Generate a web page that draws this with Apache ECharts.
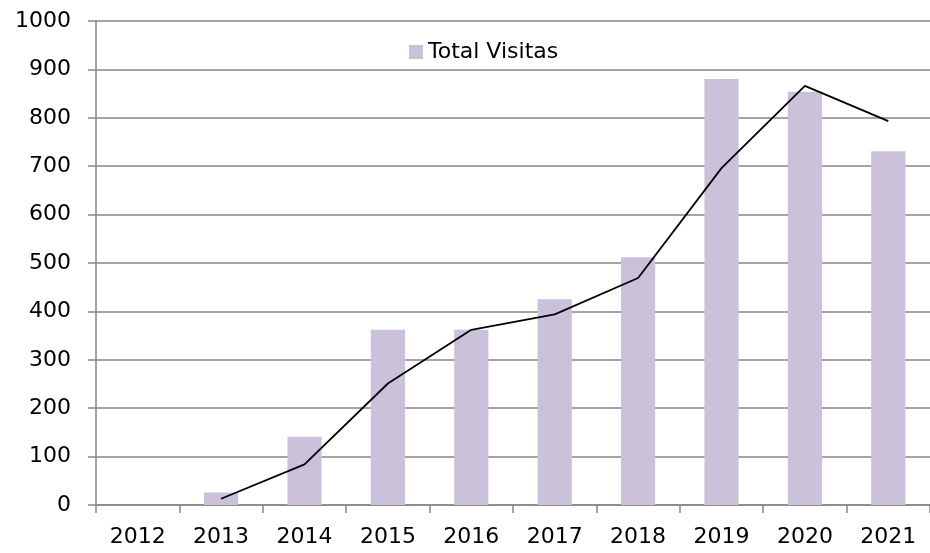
<!DOCTYPE html>
<html>
<head>
<meta charset="utf-8">
<script src="https://cdn.jsdelivr.net/npm/echarts@6/dist/echarts.min.js"></script>
<style>
html,body{margin:0;padding:0;background:#fff;}
#chart{width:930px;height:553px;}
</style>
</head>
<body>
<div id="chart"></div>
<script>
const categories = ['2012','2013','2014','2015','2016','2017','2018','2019','2020','2021'];
const totalVisitas = [0, 26, 141, 362, 362, 425, 512, 880, 854, 731];
const trendLine = ['-', 13, 84, 251, 362, 394, 469, 696, 866, 793];
const yTicks = [0, 100, 1000];

const chart = echarts.init(document.getElementById('chart'), null, {renderer:'canvas'});
const font = 'DejaVu Sans';
chart.setOption({
  animation: false,
  backgroundColor: '#ffffff',
  textStyle: {fontFamily: font},
  grid: {left: 96, right: 0, top: 21, bottom: 48, containLabel: false},
  legend: {
    data: ['Total Visitas'],
    left: 404, top: 36,
    itemWidth: 14, itemHeight: 14, icon: 'rect',
    textStyle: {fontFamily: font, fontSize: 22, color: '#000'}
  },
  xAxis: {
    type: 'category',
    data: categories,
    boundaryGap: true,
    axisLine: {lineStyle: {color: '#868686', width: 1.5}},
    axisTick: {show: true, length: 8, alignWithLabel: false, lineStyle: {color: '#868686', width: 1.5}},
    axisLabel: {fontFamily: font, fontSize: 22, color: '#000', margin: 21},
    splitLine: {show: false}
  },
  yAxis: {
    type: 'value',
    min: yTicks[0], max: yTicks[2], interval: yTicks[1],
    axisLine: {show: true, lineStyle: {color: '#868686', width: 1.5}},
    axisTick: {show: true, length: 8, lineStyle: {color: '#868686', width: 1.5}},
    axisLabel: {fontFamily: font, fontSize: 22, color: '#000', margin: 25, formatter: function (v) { return String(v); }},
    splitLine: {show: true, lineStyle: {color: '#868686', width: 1.5}}
  },
  series: [
    {
      name: 'Total Visitas',
      type: 'bar',
      data: totalVisitas,
      barWidth: '41%',
      itemStyle: {color: '#CCC1DA'}
    },
    {
      name: 'Tendencia',
      type: 'line',
      data: trendLine,
      showSymbol: false,
      symbol: 'none',
      lineStyle: {color: '#000000', width: 1.8},
      z: 5
    }
  ]
});
</script>
</body>
</html>
